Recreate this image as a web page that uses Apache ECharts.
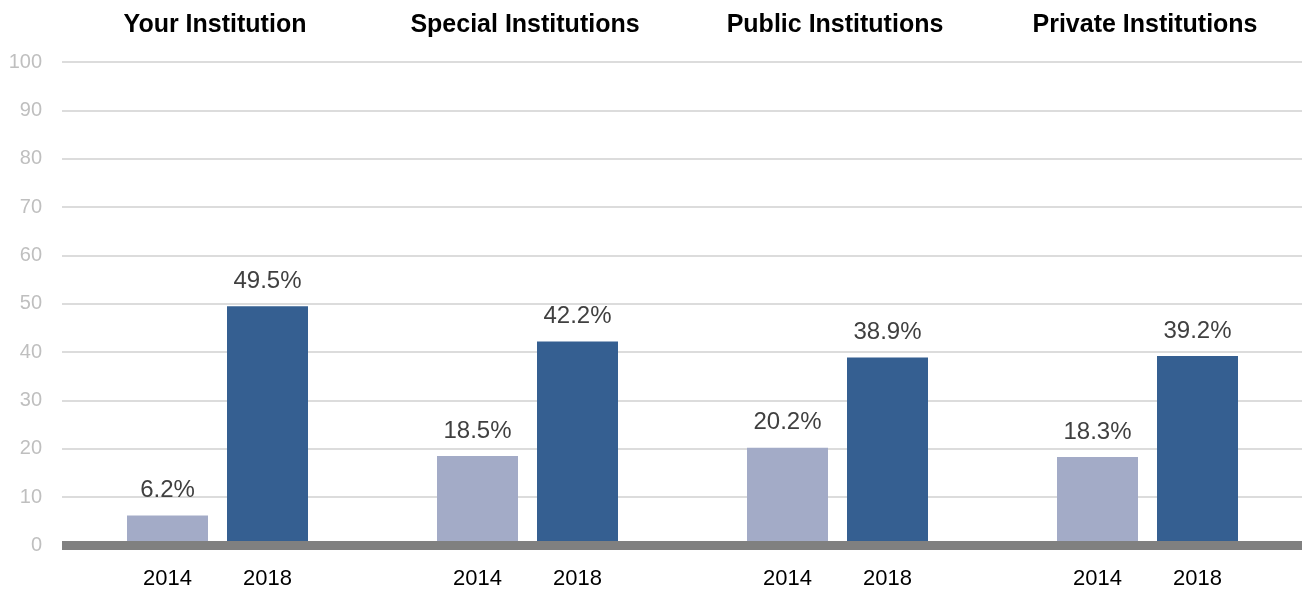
<!DOCTYPE html>
<html>
<head>
<meta charset="utf-8">
<script src="https://cdn.jsdelivr.net/npm/echarts@6/dist/echarts.min.js"></script>
<style>
html,body{margin:0;padding:0;background:#fff;}
#chart{width:1302px;height:591px;}
</style>
</head>
<body>
<div id="chart"></div>
<script>
// data
var groups = ['Your Institution', 'Special Institutions', 'Public Institutions', 'Private Institutions'];
var years = ['2014', '2018'];
var v2014 = [6.2, 18.5, 20.2, 18.3];
var v2018 = [49.5, 42.2, 38.9, 39.2];
var yTicks = [0, 10, 20, 30, 40, 50, 60, 70, 80, 90, 100];

var colLight = '#a3abc7', colDark = '#355f91';
var font = "'Liberation Sans', Arial, sans-serif";

var chart = echarts.init(document.getElementById('chart'));

var plotLeft = 62, plotTop = 62, plotBottom = 45.5, groupW = 310;

var grids = [{left: plotLeft, right: 0, top: plotTop, bottom: plotBottom}];
var xAxes = [{
	gridIndex: 0, type: 'category', data: [''], z: 5,
	axisLine: {show: true, lineStyle: {color: '#808080', width: 9, cap: 'butt'}},
	axisTick: {show: false}, axisLabel: {show: false}
}];
var yAxes = [{
	gridIndex: 0, type: 'value', min: yTicks[0], max: yTicks[yTicks.length-1], interval: 10,
	axisLine: {show: false}, axisTick: {show: false},
	axisLabel: {color: '#bfbfbf', fontSize: 20, fontFamily: font, margin: 20},
	splitLine: {lineStyle: {color: '#dcdcdc', width: 2}}
}];
var titles = [];
var series = [];

for (var i = 0; i < groups.length; i++) {
	var gl = plotLeft + groupW * i + 55.5;
	grids.push({left: gl, width: 200, top: plotTop, bottom: plotBottom});
	xAxes.push({
		gridIndex: i+1, type: 'category', data: years,
		axisLine: {show: false}, axisTick: {show: false},
		axisLabel: {color: '#000', fontSize: 22, fontFamily: font, margin: 22}
	});
	yAxes.push({gridIndex: i+1, type: 'value', min: 0, max: 100, show: false, splitLine: {show: false}});
	titles.push({
		text: groups[i], left: plotLeft + groupW * i + groupW/2 - 7, top: 8, textAlign: 'center',
		textStyle: {fontSize: 25, fontWeight: 'bold', color: '#000', fontFamily: font}
	});
	series.push({
		type: 'bar', xAxisIndex: i+1, yAxisIndex: i+1, barWidth: 81, z: 2,
		data: [
			{value: v2014[i], itemStyle: {color: colLight}},
			{value: v2018[i], itemStyle: {color: colDark}}
		],
		label: {
			show: true, position: 'top', distance: 13,
			color: '#404040', fontSize: 24, fontFamily: font,
			formatter: function(p){ return p.value.toFixed(1) + '%'; }
		}
	});
}

chart.setOption({
	animation: false,
	title: titles,
	grid: grids,
	xAxis: xAxes,
	yAxis: yAxes,
	series: series
});
</script>
</body>
</html>
